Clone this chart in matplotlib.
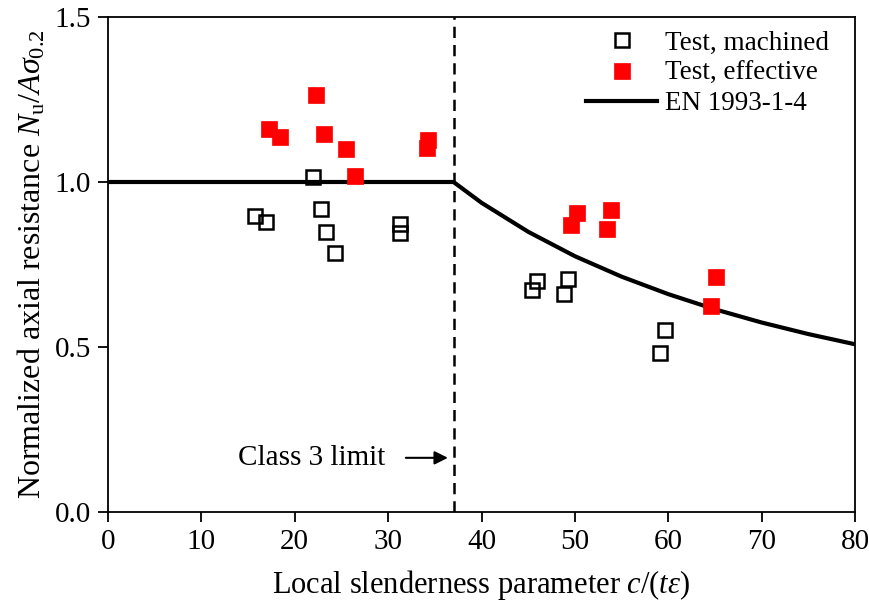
import matplotlib as mpl
import matplotlib.pyplot as plt

mpl.rcParams['font.family'] = 'Liberation Serif'
mpl.rcParams['mathtext.fontset'] = 'custom'
mpl.rcParams['mathtext.rm'] = 'Liberation Serif'
mpl.rcParams['mathtext.it'] = 'Liberation Serif:italic'
mpl.rcParams['mathtext.bf'] = 'Liberation Serif:bold'

# test results, machined section properties
mach_x = [15.8, 16.9, 22.0, 22.8, 23.3, 24.3, 31.3, 31.3,
          45.9, 45.4, 49.3, 48.8, 59.6, 59.1]
mach_y = [0.897, 0.878, 1.014, 0.917, 0.849, 0.785, 0.873, 0.846,
          0.700, 0.673, 0.706, 0.661, 0.552, 0.481]

# test results, effective section properties
eff_x = [22.3, 17.3, 18.4, 23.1, 25.5, 26.5, 34.3, 34.2,
         50.2, 49.6, 53.9, 53.4, 65.1, 64.6]
eff_y = [1.264, 1.161, 1.136, 1.145, 1.100, 1.017, 1.127, 1.102,
         0.905, 0.871, 0.915, 0.857, 0.713, 0.624]

# EN 1993-1-4 design curve
en_x = [0, 37, 40, 45, 50, 55, 60, 65, 70, 75, 80]
en_y = [1.0, 1.0, 0.937, 0.849, 0.775, 0.713, 0.660, 0.614, 0.574, 0.539, 0.508]

class3_limit = 37

fig = plt.figure(figsize=(8.7, 6.08), dpi=100)
ax = fig.add_axes([0.124, 0.158, 0.859, 0.814])

ax.plot(mach_x, mach_y, linestyle='none', marker='s', markersize=10.5,
        markerfacecolor='none', markeredgecolor='black', markeredgewidth=1.8,
        label='Test, machined', zorder=3)
ax.plot(eff_x, eff_y, linestyle='none', marker='s', markersize=11,
        markerfacecolor='red', markeredgecolor='red', markeredgewidth=0.5,
        label='Test, effective', zorder=3)
ax.plot(en_x, en_y, color='black', linewidth=3, label='EN 1993-1-4', zorder=2)

ax.axvline(class3_limit, color='black', linestyle=(0, (4.5, 2.8)), linewidth=1.8, zorder=1)
ax.annotate('', xy=(36.4, 0.164), xytext=(31.9, 0.164),
            arrowprops=dict(arrowstyle='-|>', color='black', lw=1.5,
                            mutation_scale=20, shrinkA=0, shrinkB=0))
ax.text(29.7, 0.164, 'Class 3 limit', fontsize=21, ha='right', va='center')

ax.set_xlim(0, 80)
ax.set_ylim(0, 1.5)
ax.set_xticks(range(0, 81, 10))
ax.set_yticks([0, 0.5, 1.0, 1.5])
ax.set_yticklabels(['0.0', '0.5', '1.0', '1.5'])
ax.tick_params(direction='out', length=7, width=1.3, labelsize=21, pad=5)
for sp in ax.spines.values():
    sp.set_linewidth(1.3)

ax.set_xlabel(r'Local slenderness parameter $c/(t\varepsilon)$', fontsize=22, labelpad=10)
ax.set_ylabel(r'Normalized axial resistance $N_\mathrm{u}/A\sigma_{0.2}$', fontsize=23, labelpad=5)

leg = ax.legend(loc='upper right', bbox_to_anchor=(0.983, 1.0), frameon=False,
                fontsize=19.5, handlelength=2.6, handletextpad=0.3,
                borderaxespad=0.1, labelspacing=0.2)

fig.savefig('out.png', dpi=100)
